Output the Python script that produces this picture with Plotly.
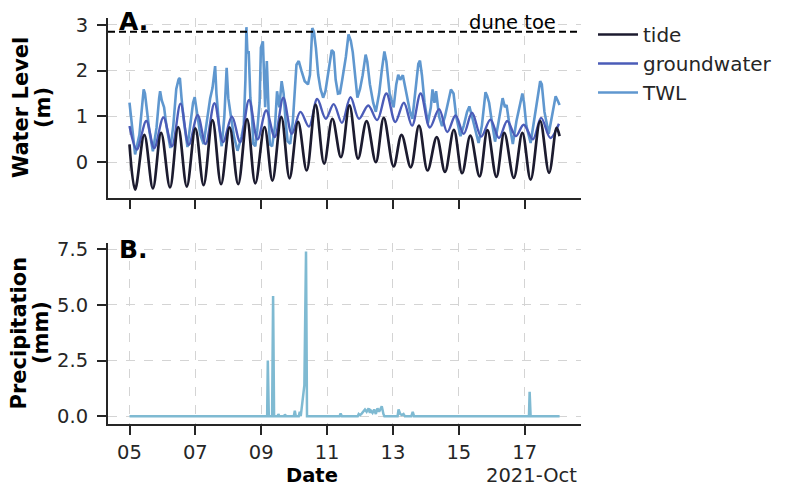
import numpy as np
import pandas as pd
import plotly.graph_objects as go

START = pd.Timestamp("2021-10-05")

# Tide: times (days since 2021-10-05 00:00) of successive highs/lows and their levels (m)
tide_days = [0.00, 0.17, 0.45, 0.71, 0.96, 1.23, 1.48, 1.74, 2.00, 2.25, 2.52, 2.78,
             3.04, 3.30, 3.57, 3.82, 4.10, 4.34, 4.61, 4.86, 5.12, 5.38, 5.65, 5.91,
             6.16, 6.42, 6.68, 6.94, 7.20, 7.48, 7.72, 8.02, 8.26, 8.54, 8.79, 9.05,
             9.33, 9.58, 9.85, 10.10, 10.35, 10.63, 10.87, 11.14, 11.38, 11.67, 11.93,
             12.18, 12.47, 12.74, 12.97, 13.06]
tide_m = [0.39, -0.60, 0.60, -0.57, 0.64, -0.55, 0.77, -0.53, 0.74, -0.50, 0.92, -0.48,
          0.76, -0.48, 0.94, -0.46, 0.77, -0.40, 0.99, -0.35, 0.88, -0.18, 1.26, -0.03,
          0.95, 0.11, 1.24, 0.08, 0.90, 0.00, 0.97, -0.09, 0.60, -0.11, 0.80, -0.18,
          0.55, -0.21, 0.71, -0.24, 0.58, -0.31, 0.70, -0.32, 0.64, -0.34, 0.64,
          -0.38, 0.90, -0.23, 0.75, 0.57]

# Groundwater: highs/lows (m)
gw_days = [0.00, 0.22, 0.51, 0.75, 1.03, 1.29, 1.55, 1.80, 2.07, 2.31, 2.58, 2.84,
           3.11, 3.36, 3.63, 3.89, 4.15, 4.41, 4.67, 4.93, 5.19, 5.45, 5.70, 5.96,
           6.20, 6.45, 6.71, 6.97, 7.25, 7.52, 7.80, 8.07, 8.33, 8.58, 8.84, 9.12,
           9.40, 9.65, 9.90, 10.15, 10.40, 10.68, 10.96, 11.22, 11.47, 11.73, 11.97,
           12.25, 12.50, 12.78, 13.04]
gw_m = [0.79, 0.28, 0.90, 0.31, 0.98, 0.35, 1.28, 0.38, 1.03, 0.40, 1.29, 0.44,
        1.00, 0.44, 1.36, 0.50, 1.13, 0.55, 1.41, 0.62, 1.10, 0.78, 1.38, 0.95,
        1.27, 0.86, 1.42, 0.95, 1.24, 0.92, 1.50, 0.88, 1.30, 0.80, 1.50, 0.76,
        1.16, 0.66, 1.02, 0.62, 1.08, 0.56, 0.93, 0.53, 0.90, 0.57, 0.82,
        0.50, 0.97, 0.53, 0.84]

# Total water level (m)
twl_days = [0.00, 0.08, 0.17, 0.30, 0.40, 0.43, 0.47, 0.52, 0.60, 0.71, 0.82, 0.90,
            0.93, 0.98, 1.05, 1.12, 1.24, 1.33, 1.42, 1.49, 1.53, 1.58, 1.65, 1.76,
            1.85, 1.93, 1.98, 2.05, 2.15, 2.25, 2.35, 2.45, 2.52, 2.60, 2.64, 2.72,
            2.80, 2.88, 2.95, 3.00, 3.08, 3.17, 3.28, 3.40, 3.47, 3.52, 3.55, 3.58,
            3.62, 3.67, 3.72, 3.76, 3.82, 3.88, 3.95, 3.99, 4.05, 4.09, 4.12, 4.17,
            4.21, 4.26, 4.33, 4.42, 4.48, 4.55, 4.62, 4.68, 4.74, 4.80, 4.88, 4.96,
            5.07, 5.14, 5.22, 5.32, 5.42, 5.48, 5.55, 5.60, 5.66, 5.73, 5.80, 5.88,
            5.95, 6.06, 6.14, 6.20, 6.26, 6.33, 6.39, 6.46, 6.57, 6.65, 6.72, 6.78,
            6.84, 6.92, 7.00, 7.08, 7.17, 7.22, 7.30, 7.40, 7.48, 7.58, 7.66, 7.74,
            7.80, 7.90, 8.02, 8.10, 8.16, 8.22, 8.30, 8.40, 8.52, 8.59, 8.68, 8.77,
            8.82, 8.88, 8.96, 9.06, 9.15, 9.20, 9.26, 9.31, 9.40, 9.49, 9.58, 9.66,
            9.76, 9.84, 9.92, 10.05, 10.15, 10.25, 10.32, 10.40, 10.50, 10.60, 10.70,
            10.81, 10.86, 10.92, 11.00, 11.10, 11.20, 11.33, 11.40, 11.45, 11.52,
            11.64, 11.75, 11.85, 11.93, 11.98, 12.05, 12.18, 12.28, 12.40, 12.47,
            12.52, 12.60, 12.73, 12.83, 12.94, 13.00, 13.06]
twl_m = [1.30, 0.80, 0.17, 0.60, 1.40, 1.59, 1.50, 1.20, 0.70, 0.24, 0.75, 1.40,
         1.55, 1.35, 1.20, 0.80, 0.31, 0.80, 1.60, 1.81, 1.84, 1.40, 0.90, 0.33,
         0.80, 1.30, 1.42, 1.10, 0.60, 0.40, 0.90, 1.40, 1.62, 2.10, 1.50, 0.80,
         0.35, 1.00, 2.06, 1.40, 1.00, 0.57, 0.25, 0.55, 0.82, 1.80, 2.95, 2.40,
         2.40, 1.41, 1.00, 0.40, 0.35, 0.70, 1.30, 2.50, 2.64, 1.80, 1.20, 2.21,
         1.30, 0.39, 0.35, 0.80, 1.55, 1.20, 1.77, 1.50, 0.90, 0.46, 0.40, 0.90,
         2.13, 2.21, 2.00, 1.77, 1.70, 1.91, 2.93, 2.85, 2.50, 1.91, 1.60, 1.41,
         1.55, 2.13, 2.45, 2.40, 1.80, 1.50, 1.51, 1.80, 2.30, 2.79, 2.65, 2.40,
         1.90, 1.41, 1.60, 1.90, 2.35, 2.20, 1.70, 1.30, 1.10, 1.50, 2.00, 2.42,
         2.20, 1.50, 1.20, 1.70, 1.91, 1.80, 1.90, 1.50, 1.10, 0.95, 1.50, 2.15,
         2.22, 1.90, 1.30, 0.85, 1.20, 1.59, 1.30, 1.55, 1.00, 0.79, 1.00, 1.30,
         1.59, 1.50, 1.00, 0.57, 0.80, 1.10, 1.22, 1.00, 0.70, 0.42, 0.80,
         1.53, 1.45, 1.30, 0.90, 0.45, 0.85, 1.40, 1.20, 1.25, 0.90,
         0.40, 0.90, 1.20, 1.50, 1.30, 0.80, 0.42, 0.90, 1.50, 1.77,
         1.70, 1.10, 0.62, 1.00, 1.44, 1.35, 1.25]

# Precipitation (mm)
precip_days = [0.00, 4.18, 4.20, 4.23, 4.33, 4.36, 4.39, 4.50, 4.52, 4.55, 4.70, 4.72,
               4.75, 4.99, 5.02, 5.05, 5.14, 5.17, 5.20, 5.24, 5.28, 5.31, 5.36, 5.39,
               6.38, 6.41, 6.45, 6.93, 6.96, 7.00, 7.05, 7.10, 7.15, 7.20, 7.26, 7.30,
               7.33, 7.38, 7.43, 7.48, 7.53, 7.58, 7.62, 7.66, 7.71, 7.74, 8.14, 8.17,
               8.22, 8.27, 8.32, 8.36, 8.56, 8.60, 8.64, 12.10, 12.13, 12.15, 12.18, 13.06]
precip_mm = [0.0, 0.0, 2.5, 0.0, 0.0, 5.4, 0.0, 0.0, 0.1, 0.0, 0.0, 0.08,
             0.0, 0.0, 0.25, 0.0, 0.0, 0.2, 0.0, 0.5, 0.9, 1.4, 7.4, 0.0,
             0.0, 0.12, 0.0, 0.0, 0.1, 0.05, 0.12, 0.2, 0.3, 0.2, 0.35, 0.15,
             0.25, 0.15, 0.3, 0.1, 0.35, 0.2, 0.3, 0.45, 0.1, 0.0, 0.0, 0.3,
             0.1, 0.05, 0.1, 0.0, 0.0, 0.2, 0.0, 0.0, 0.0, 1.1, 0.0, 0.0]

DUNE_TOE = 2.85

tick_days = [0, 2, 4, 6, 8, 10, 12]
tick_labels = ["05", "07", "09", "11", "13", "15", "17"]


def to_time(days):
    return START + pd.to_timedelta(np.asarray(days, dtype=float), unit="D")


C_TIDE = "#1c1b2f"
C_GW = "#4b5cb8"
C_TWL = "#5f97cf"
C_PRECIP = "#7fbad2"
INK = "#262626"
GRID = "#d4d4d4"
FONT = "DejaVu Sans"

fig = go.Figure()

fig.add_trace(go.Scatter(x=to_time(twl_days), y=twl_m, mode="lines", name="TWL",
                         line=dict(color=C_TWL, width=2.6), legendrank=3,
                         xaxis="x", yaxis="y"))
fig.add_trace(go.Scatter(x=to_time(gw_days), y=gw_m, mode="lines", name="groundwater",
                         line=dict(color=C_GW, width=2.4, shape="spline", smoothing=1.0),
                         legendrank=2, xaxis="x", yaxis="y"))
fig.add_trace(go.Scatter(x=to_time(tide_days), y=tide_m, mode="lines", name="tide",
                         line=dict(color=C_TIDE, width=2.7, shape="spline", smoothing=1.0),
                         legendrank=1, xaxis="x", yaxis="y"))
fig.add_trace(go.Scatter(x=to_time(precip_days), y=precip_mm, mode="lines",
                         name="precipitation", showlegend=False,
                         line=dict(color=C_PRECIP, width=2.5), xaxis="x2", yaxis="y2"))

x_range = [START + pd.Timedelta(days=-0.653), START + pd.Timedelta(days=13.71)]

axis_common = dict(
    showline=True, linecolor=INK, linewidth=2,
    ticks="outside", ticklen=9, tickwidth=2, tickcolor=INK,
    showgrid=True, gridcolor=GRID, griddash="dash", gridwidth=1,
    zeroline=False, tickfont=dict(family=FONT, size=19.5, color=INK),
)

fig.update_layout(
    width=790, height=488,
    margin=dict(l=108, r=209, t=18, b=64),
    paper_bgcolor="white", plot_bgcolor="white",
    font=dict(family=FONT, color=INK),
    showlegend=True,
    legend=dict(x=1.0254, y=1.0074, xanchor="left", yanchor="top",
                font=dict(family=FONT, size=20, color=INK),
                bgcolor="rgba(0,0,0,0)", tracegroupgap=0, itemwidth=40),
    xaxis=dict(domain=[0, 1], anchor="y", range=x_range,
               tickvals=to_time(tick_days), ticktext=tick_labels,
               showticklabels=False, ticklabelstandoff=1, **axis_common),
    yaxis=dict(domain=[0.5567, 1.0], anchor="x", range=[-0.78, 3.15],
               tickvals=[0, 1, 2, 3], ticktext=["0", "1", "2", "3"],
               ticklabelstandoff=5, **axis_common),
    xaxis2=dict(domain=[0, 1], anchor="y2", range=x_range, matches="x",
                tickvals=to_time(tick_days), ticktext=tick_labels,
                ticklabelstandoff=1, **axis_common),
    yaxis2=dict(domain=[0, 0.4458], anchor="x2", range=[-0.35, 7.78],
                tickvals=[0, 2.5, 5.0, 7.5], ticktext=["0.0", "2.5", "5.0", "7.5"],
                ticklabelstandoff=5, **axis_common),
)

# Dune toe reference level
fig.add_shape(type="line", xref="x domain", yref="y", x0=0, x1=1,
              y0=DUNE_TOE, y1=DUNE_TOE,
              line=dict(color="black", width=2, dash="7px,4px"))

ann = []
ann.append(dict(text="dune toe", xref="paper", yref="paper", x=0.951, y=0.990,
                xanchor="right", yanchor="middle", showarrow=False,
                font=dict(family=FONT, size=19.5, color="black")))
ann.append(dict(text="<b>A.</b>", xref="paper", yref="paper", x=0.019, y=0.9926,
                xanchor="left", yanchor="middle", showarrow=False,
                font=dict(family=FONT, size=25, color="black")))
ann.append(dict(text="<b>B.</b>", xref="paper", yref="paper", x=0.019, y=0.4286,
                xanchor="left", yanchor="middle", showarrow=False,
                font=dict(family=FONT, size=25, color="black")))
for txt, px, py in [("Water Level", 21, 108), ("(m)", 43, 108),
                    ("Precipitation", 18.5, 333), ("(mm)", 41, 333)]:
    ann.append(dict(text=f"<b>{txt}</b>", xref="paper", yref="paper",
                    x=(px - 108) / 473, y=(424 - py) / 406,
                    xanchor="center", yanchor="middle", textangle=-90, showarrow=False,
                    font=dict(family=FONT, size=21, color="black")))
ann.append(dict(text="<b>Date</b>", xref="paper", yref="paper",
                x=(311.7 - 108) / 473, y=(424 - 488) / 406,
                xanchor="center", yanchor="bottom", showarrow=False, borderpad=0,
                font=dict(family=FONT, size=19.5, color="black")))
ann.append(dict(text="2021-Oct", xref="paper", yref="paper",
                x=(578 - 108) / 473, y=(424 - 488) / 406,
                xanchor="right", yanchor="bottom", showarrow=False, borderpad=0,
                font=dict(family=FONT, size=19.5, color=INK)))
fig.update_layout(annotations=ann)

fig.write_html("out.html")
